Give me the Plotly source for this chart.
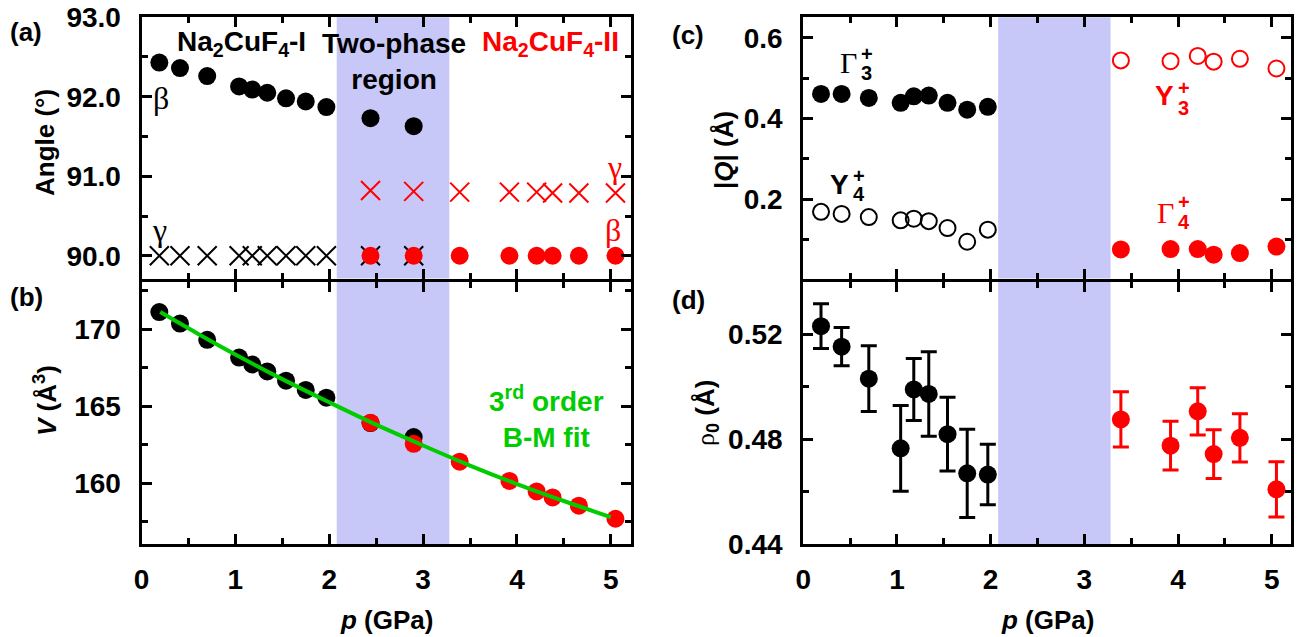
import plotly.graph_objects as go

# ---------------- data ----------------
p_I = [0.19, 0.41, 0.70, 1.04, 1.18, 1.34, 1.54, 1.75, 1.97, 2.44, 2.90]
p_II = [2.44, 2.90, 3.39, 3.92, 4.21, 4.38, 4.66, 5.05]

beta_I = [92.43, 92.36, 92.26, 92.13, 92.09, 92.05, 91.98, 91.94, 91.87, 91.73, 91.63]
gamma_I = [90.0, 90.0, 90.0, 90.0, 90.0, 90.0, 90.0, 90.0, 90.0, 90.0, 90.0]
gamma_II = [90.82, 90.81, 90.80, 90.80, 90.80, 90.79, 90.79, 90.79]
beta_II = [90.0, 90.0, 90.0, 90.0, 90.0, 90.0, 90.0, 90.0]

V_I = [171.1, 170.35, 169.3, 168.15, 167.7, 167.25, 166.65, 166.05, 165.55, 163.9, 163.0]
V_II = [163.93, 162.56, 161.4, 160.15, 159.47, 159.08, 158.55, 157.7]
p_fit = [0.2, 0.6, 1.0, 1.5, 2.0, 2.5, 3.0, 3.5, 4.0, 4.5, 5.0]
V_fit = [171.1, 169.7, 168.35, 166.75, 165.25, 163.8, 162.45, 161.15, 159.95, 158.85, 157.8]

p_Ic = [0.19, 0.41, 0.70, 1.04, 1.18, 1.34, 1.54, 1.75, 1.97]
p_IIc = [3.39, 3.92, 4.21, 4.38, 4.66, 5.05]
G3_I = [0.461, 0.461, 0.451, 0.439, 0.455, 0.457, 0.439, 0.422, 0.429]
Y4_I = [0.169, 0.164, 0.156, 0.148, 0.152, 0.146, 0.129, 0.095, 0.125]
Y3_II = [0.544, 0.542, 0.555, 0.541, 0.548, 0.524]
G4_II = [0.076, 0.077, 0.077, 0.063, 0.067, 0.083]

rho_I = [0.523, 0.5152, 0.503, 0.4765, 0.4989, 0.4972, 0.4819, 0.467, 0.4665]
rho_I_err = [0.0085, 0.0073, 0.0125, 0.0163, 0.0118, 0.0161, 0.014, 0.0168, 0.0115]
rho_II = [0.4875, 0.4775, 0.4906, 0.4743, 0.4805, 0.4609]
rho_II_err = [0.0105, 0.0093, 0.009, 0.0093, 0.0092, 0.0105]

two_phase = [2.08, 3.28]

angle_ticks = [90.0, 91.0, 92.0, 93.0]
V_ticks = [160, 165, 170]
Q_ticks = [0.2, 0.4, 0.6]
rho_ticks = [0.44, 0.48, 0.52]
p_ticks = [0, 1, 2, 3, 4, 5]

# ---------------- layout geometry ----------------
W, H = 1298, 637
def fx(px):
    return px / W
def fy(py):
    return 1 - py / H

# axis lines are drawn just outside the domain (3px), so shift domains by 1.5 px
LX = [fx(141.5), fx(630.5)]
RX = [fx(803.2), fx(1290.5)]
TOPY = [fy(278.5), fy(17.2)]
BOTY = [fy(544.2), fy(281.5)]

SANS = "Liberation Sans, Arial, sans-serif"
SERIF = "Liberation Serif, Times New Roman, serif"
RED = "#FF0000"
BLK = "#000000"
GREEN = "#00CC00"

fig = go.Figure()

# panel (a)
fig.add_trace(go.Scatter(x=p_I, y=gamma_I, mode="markers", xaxis="x", yaxis="y",
                         marker=dict(symbol="x-thin", size=19, color=BLK, line=dict(width=2, color=BLK))))
fig.add_trace(go.Scatter(x=p_I, y=beta_I, mode="markers", xaxis="x", yaxis="y",
                         marker=dict(symbol="circle", size=18, color=BLK)))
fig.add_trace(go.Scatter(x=p_II, y=gamma_II, mode="markers", xaxis="x", yaxis="y",
                         marker=dict(symbol="x-thin", size=19, color=RED, line=dict(width=2, color=RED))))
fig.add_trace(go.Scatter(x=p_II, y=beta_II, mode="markers", xaxis="x", yaxis="y",
                         marker=dict(symbol="circle", size=18, color=RED)))

# panel (b)
fig.add_trace(go.Scatter(x=p_I, y=V_I, mode="markers", xaxis="x2", yaxis="y2",
                         marker=dict(symbol="circle", size=18, color=BLK)))
fig.add_trace(go.Scatter(x=p_II, y=V_II, mode="markers", xaxis="x2", yaxis="y2",
                         marker=dict(symbol="circle", size=18, color=RED)))
fig.add_trace(go.Scatter(x=p_fit, y=V_fit, mode="lines", xaxis="x2", yaxis="y2",
                         line=dict(color=GREEN, width=4, shape="spline")))

# panel (c)
fig.add_trace(go.Scatter(x=p_Ic, y=G3_I, mode="markers", xaxis="x3", yaxis="y3",
                         marker=dict(symbol="circle", size=18, color=BLK)))
fig.add_trace(go.Scatter(x=p_Ic, y=Y4_I, mode="markers", xaxis="x3", yaxis="y3",
                         marker=dict(symbol="circle-open", size=16, color=BLK, line=dict(width=2))))
fig.add_trace(go.Scatter(x=p_IIc, y=Y3_II, mode="markers", xaxis="x3", yaxis="y3",
                         marker=dict(symbol="circle-open", size=16, color=RED, line=dict(width=2))))
fig.add_trace(go.Scatter(x=p_IIc, y=G4_II, mode="markers", xaxis="x3", yaxis="y3",
                         marker=dict(symbol="circle", size=18, color=RED)))

# panel (d)
fig.add_trace(go.Scatter(x=p_Ic, y=rho_I, mode="markers", xaxis="x4", yaxis="y4",
                         marker=dict(symbol="circle", size=18, color=BLK),
                         error_y=dict(type="data", array=rho_I_err, color=BLK, thickness=3, width=8)))
fig.add_trace(go.Scatter(x=p_IIc, y=rho_II, mode="markers", xaxis="x4", yaxis="y4",
                         marker=dict(symbol="circle", size=18, color=RED),
                         error_y=dict(type="data", array=rho_II_err, color=RED, thickness=3, width=8)))

tickfont = dict(family=SANS, size=28, color=BLK, weight="bold")

def axis(domain, rng, tickvals, minor, minor0, anchor, labels=True, fmt=None, standoff=10):
    d = dict(domain=domain, range=rng, tickvals=tickvals, anchor=anchor, automargin=False,
             showline=True, linewidth=3, linecolor=BLK, mirror="ticks",
             ticks="inside", ticklen=10, tickwidth=3, tickcolor=BLK,
             minor=dict(ticks="inside", ticklen=6, tickwidth=3, tickcolor=BLK,
                        dtick=minor, tick0=minor0),
             showgrid=False, zeroline=False, showticklabels=labels,
             tickfont=tickfont, ticklabelstandoff=standoff)
    if fmt:
        d["tickformat"] = fmt
    return d

fig.update_layout(
    width=W, height=H, margin=dict(l=0, r=0, t=0, b=0, autoexpand=False),
    paper_bgcolor="white", plot_bgcolor="white", showlegend=False,
    xaxis=axis(LX, [0, 5.21], p_ticks, 0.5, 0, "y", labels=False),
    yaxis=axis(TOPY, [89.714, 93.0], angle_ticks, 0.5, 90, "x", fmt=".1f", standoff=12),
    xaxis2=axis(LX, [0, 5.21], p_ticks, 0.5, 0, "y2", standoff=8),
    yaxis2=axis(BOTY, [156.05, 173.08], V_ticks, 2.5, 160, "x2", standoff=12),
    xaxis3=axis(RX, [0, 5.2], p_ticks, 0.5, 0, "y3", labels=False),
    yaxis3=axis(TOPY, [0.004, 0.651], Q_ticks, 0.1, 0, "x3", fmt=".1f", standoff=12),
    xaxis4=axis(RX, [0, 5.2], p_ticks, 0.5, 0, "y4", standoff=8),
    yaxis4=axis(BOTY, [0.44, 0.54], rho_ticks, 0.02, 0.44, "x4", fmt=".2f", standoff=12),
)

shade = "rgba(200,200,248,1)"
for xa, ya in [("x", "y"), ("x2", "y2"), ("x3", "y3"), ("x4", "y4")]:
    fig.add_shape(type="rect", xref=xa, yref=ya + " domain", x0=two_phase[0], x1=two_phase[1],
                  y0=0, y1=1, fillcolor=shade, line=dict(width=0), layer="below")

ann = []
def txt(text, x, y, size=28, color=BLK, family=SANS, bold=True, xref="paper", yref="paper",
        angle=0, xanchor="center", yanchor="middle", xshift=0, yshift=0):
    ann.append(dict(text=text, x=x, y=y, xref=xref, yref=yref, showarrow=False,
                    textangle=angle, xanchor=xanchor, yanchor=yanchor, xshift=xshift, yshift=yshift,
                    font=dict(family=family, size=size, color=color,
                              weight="bold" if bold else "normal")))

# panel labels
txt("(a)", fx(26), fy(32), size=26)
txt("(b)", fx(26), fy(297), size=26)
txt("(c)", fx(688), fy(35), size=26)
txt("(d)", fx(688), fy(300), size=26)

# axis titles
txt("Angle (°)", fx(45), fy(142), size=26, angle=-90)
txt("<i>V</i> (Å<sup>3</sup>)", fx(45), fy(400), size=26, angle=-90)
txt("|<i>Q</i>| (Å)", fx(724), fy(150), size=26, angle=-90)
txt("<span style='font-family:Liberation Serif;font-weight:normal'>ρ</span><sub>0</sub> (Å)",
    fx(706), fy(413), size=26, angle=-90)
txt("<i>p</i> (GPa)", fx(386), fy(620), size=26)
txt("<i>p</i> (GPa)", fx(1047), fy(620), size=26)

# panel (a) texts
txt("Na<sub>2</sub>CuF<sub>4</sub>-I", 1.07, 92.6, xref="x", yref="y", yshift=6)
txt("Two-phase<br>region", 2.69, 92.37, xref="x", yref="y", yshift=6)
txt("Na<sub>2</sub>CuF<sub>4</sub>-II", 4.36, 92.6, xref="x", yref="y", color=RED, yshift=6)
txt("β", 0.21, 91.98, family=SERIF, bold=False, xref="x", yref="y", size=32)
txt("γ", 0.19, 90.33, family=SERIF, bold=False, xref="x", yref="y", size=32)
txt("γ", 5.04, 91.12, family=SERIF, bold=False, xref="x", yref="y", size=32, color=RED)
txt("β", 5.02, 90.33, family=SERIF, bold=False, xref="x", yref="y", size=32, color=RED)

# panel (b) text
txt("3<sup>rd</sup> order<br>B-M fit", 4.31, 164.3, xref="x2", yref="y2", color=GREEN)

# panel (c) stacked labels
def stacked(base, sup, sub, x, y, color, family, bold, ysup, ysub, size=28):
    txt(base, x, y, xref="x3", yref="y3", color=color, family=family, bold=bold, xanchor="right", size=size)
    txt(sup, x, y, xref="x3", yref="y3", color=color, family=SANS, bold=True, xanchor="left", size=20, yshift=ysup)
    txt(sub, x, y, xref="x3", yref="y3", color=color, family=SANS, bold=True, xanchor="left", size=20, yshift=ysub)

stacked("Γ", "+", "3", 0.60, 0.54, BLK, SERIF, False, 8, -11, size=30)
stacked("Y", "+", "4", 0.51, 0.238, BLK, SANS, True, 8, -10)
stacked("Y", "+", "3", 3.98, 0.456, RED, SANS, True, 8, -12)
stacked("Γ", "+", "4", 3.98, 0.167, RED, SERIF, False, 11, -9, size=30)

fig.update_layout(annotations=ann)
fig.write_html("out.html")
